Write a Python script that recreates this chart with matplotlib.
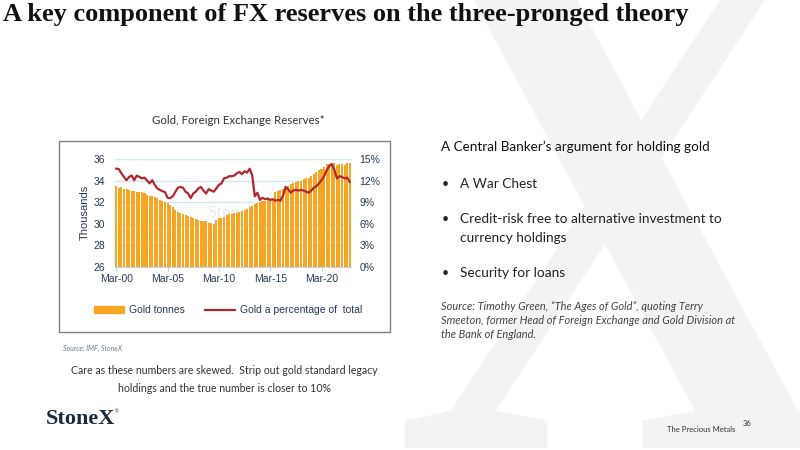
import matplotlib
matplotlib.use("Agg")
from matplotlib import pyplot as plt
from matplotlib import patches
from matplotlib.textpath import TextPath
from matplotlib.font_manager import FontProperties
from matplotlib.transforms import Affine2D
from matplotlib.lines import Line2D
import numpy as np

# quarterly, Mar-00 .. Dec-22
gold_tonnes = [
    33.5, 33.3, 33.4, 33.2,   # 2000
    33.2, 33.1, 33.0, 33.0,   # 2001
    32.9, 32.95, 32.9, 32.8,  # 2002
    32.7, 32.6, 32.6, 32.5,   # 2003
    32.4, 32.2, 32.1, 32.0,   # 2004
    31.9, 31.7, 31.5, 31.3,   # 2005
    31.1, 31.0, 30.9, 30.8,   # 2006
    30.7, 30.6, 30.5, 30.4,   # 2007
    30.3, 30.2, 30.2, 30.2,   # 2008
    30.1, 30.1, 30.0, 30.3,   # 2009
    30.5, 30.5, 30.6, 30.8,   # 2010
    30.9, 30.9, 31.0, 31.0,   # 2011
    31.1, 31.2, 31.3, 31.4,   # 2012
    31.5, 31.6, 31.8, 31.9,   # 2013
    32.0, 32.1, 32.1, 32.2,   # 2014
    32.2, 32.2, 32.9, 33.0,   # 2015
    33.1, 33.2, 33.4, 33.5,   # 2016
    33.7, 33.8, 33.9, 34.0,   # 2017
    34.0, 34.1, 34.2, 34.2,   # 2018
    34.4, 34.6, 34.8, 35.0,   # 2019
    35.1, 35.3, 35.5, 35.5,   # 2020
    35.5, 35.6, 35.4, 35.5,   # 2021
    35.5, 35.4, 35.6, 35.6,   # 2022
]
gold_pct = [
    13.65, 13.6, 13.0, 12.5,
    12.05, 12.5, 12.7, 12.05,
    12.7, 12.5, 12.3, 12.4,
    12.0, 11.6, 12.05, 11.4,
    10.9, 10.7, 10.5, 10.4,
    9.6, 9.55, 9.8, 10.4,
    11.0, 11.1, 11.0, 10.45,
    10.2, 9.55, 10.2, 10.45,
    10.9, 11.1, 10.6, 10.2,
    10.8, 10.6, 10.45, 10.9,
    11.4, 11.6, 12.3, 12.4,
    12.6, 12.6, 12.7, 13.0,
    13.2, 12.9, 13.3, 13.1,
    13.65, 12.7, 9.8, 10.3,
    9.3, 9.6, 9.4, 9.5,
    9.3, 9.4, 9.2, 9.3,
    9.2, 9.9, 11.1, 10.8,
    10.3, 10.6, 10.7, 10.6,
    10.7, 10.6, 10.45, 10.3,
    10.6, 11.0, 11.2, 11.6,
    12.05, 12.6, 13.4, 14.0,
    14.3, 13.5, 12.3, 12.6,
    12.5, 12.3, 12.4, 11.8,
]
x_labels = ["Mar-00", "Mar-05", "Mar-10", "Mar-15", "Mar-20"]
left_ticks = [26, 28, 30, 32, 34, 36]
right_ticks = [0, 3, 6, 9, 12, 15]

BAR_COLOR = "#F6A623"
LINE_COLOR = "#B0282D"
GRID_COLOR = "#D4E5F4"
TICK_COLOR = "#243B5A"
SANS = "Liberation Sans"
BODY = "Lato"

fig = plt.figure(figsize=(8, 4.5), dpi=100)

# background "slide" axes in pixel coordinates
bg = fig.add_axes([0, 0, 1, 1], zorder=0)
bg.set_xlim(0, 800)
bg.set_ylim(450, 0)
bg.axis("off")

# big watermark X
fp = FontProperties(family="Liberation Serif", weight="bold")
tp = TextPath((0, 0), "X", size=1, prop=fp)
ext = tp.get_extents()
W, H = 440, 500
tr = Affine2D().translate(-ext.x0, -ext.y0).scale(W / ext.width, -H / ext.height).translate(405, 448)
bg.add_patch(patches.PathPatch(tr.transform_path(tp), facecolor="#F2F3F5", edgecolor="none", zorder=0))

bg.text(3, 15, "A key component of FX reserves on the three-pronged theory", fontsize=19,
        fontweight="bold", family="Liberation Serif", va="center", ha="left", color="#111111")

bg.text(238, 121, "Gold, Foreign Exchange Reserves*", fontsize=8.3, family=BODY, ha="center",
        va="center", color="#333333")

# chart frame
bg.add_patch(patches.Rectangle((59, 141), 331, 191, fill=False, edgecolor="#808080", lw=1))

bg.text(63, 348, "Source: IMF, StoneX", fontsize=5, style="italic", family=BODY, color="#6F7A8A",
        va="center")
bg.text(224, 371, "Care as these numbers are skewed.  Strip out gold standard legacy", fontsize=7.6,
        family=BODY, ha="center", va="center", color="#333333")
bg.text(224, 388, "holdings and the true number is closer to 10%", fontsize=7.6,
        family=BODY, ha="center", va="center", color="#333333")

bg.text(46, 419, "StoneX", fontsize=16, family="Liberation Serif", fontweight="semibold",
        va="center", color="#1B2A3A")
bg.text(115, 412, "\u00ae", fontsize=3.5, family=SANS, va="center", color="#1B2A3A")

bg.text(441, 147, "A Central Banker\u2019s argument for holding gold", fontsize=9.7, family=BODY,
        va="center", color="#111111")
bullets = [(184, "A War Chest"), (219, "Credit-risk free to alternative investment to"),
           (273, "Security for loans")]
for yy, txt in bullets:
    bg.text(442, yy, "\u2022", fontsize=9, family=BODY, va="center", color="#222222")
    bg.text(460, yy, txt, fontsize=9.8, family=BODY, va="center", color="#222222")
bg.text(460, 238, "currency holdings", fontsize=9.8, family=BODY, va="center", color="#222222")
src = ["Source: Timothy Green, \u201cThe Ages of Gold\u201d, quoting Terry",
       "Smeeton, former Head of Foreign Exchange and Gold Division at",
       "the Bank of England."]
for k, line in enumerate(src):
    bg.text(441, 307 + k * 14, line, fontsize=7.9, family=BODY, style="italic", va="center",
            color="#444444")

bg.text(735, 430, "The Precious Metals", fontsize=5.5, family=BODY, ha="right", va="center",
        color="#333333")
bg.text(743, 423, "36", fontsize=5.5, family=BODY, ha="left", va="center", color="#333333")

# the chart
idx = np.arange(len(gold_tonnes))
ax = fig.add_axes([115 / 800, 1 - 266.7 / 450, 236 / 800, 107.7 / 450], zorder=2)
ax.bar(idx, gold_tonnes, width=0.8, color=BAR_COLOR, zorder=2)
ax.set_ylim(26, 36)
ax.set_xlim(-0.5, len(gold_tonnes) - 0.5)
ax.set_yticks(left_ticks)
ax.set_xticks(np.arange(0, len(gold_tonnes), 20))
ax.set_xticklabels(x_labels)
ax.set_axisbelow(True)
ax.yaxis.grid(True, color=GRID_COLOR, lw=1)
for s in ["top", "left", "right"]:
    ax.spines[s].set_visible(False)
ax.spines["bottom"].set_color("#BCD6EE")
ax.tick_params(axis="y", length=0, pad=7, labelsize=7.5, labelcolor=TICK_COLOR)
ax.tick_params(axis="x", length=3, color="#BCD6EE", pad=2, labelsize=7.5, labelcolor=TICK_COLOR)
for lab in ax.get_xticklabels() + ax.get_yticklabels():
    lab.set_family(SANS)
ax.set_ylabel("Thousands", fontsize=8, family=SANS, color=TICK_COLOR, labelpad=3)
ax.text(0.5, 0.5, "StoneX", transform=ax.transAxes, fontsize=12, family="Liberation Serif",
        fontweight="bold", color="#E2E2E2", alpha=0.6, ha="center", va="center", zorder=1)

ax2 = ax.twinx()
ax2.plot(idx, gold_pct, color=LINE_COLOR, lw=1.6)
ax2.set_ylim(0, 15)
ax2.set_yticks(right_ticks)
ax2.set_yticklabels([f"{t}%" for t in right_ticks])
for s in ax2.spines.values():
    s.set_visible(False)
ax2.tick_params(axis="y", length=0, pad=6, labelsize=7.5, labelcolor=TICK_COLOR)
for lab in ax2.get_yticklabels():
    lab.set_family(SANS)

handles = [patches.Patch(color=BAR_COLOR), Line2D([], [], color=LINE_COLOR, lw=1.6)]
fig.legend(handles, ["Gold tonnes", "Gold a percentage of  total"], loc="center",
           bbox_to_anchor=(228 / 800, 1 - 310 / 450), ncol=2, frameon=False,
           prop={"family": SANS, "size": 7.5}, handlelength=2.9, handleheight=0.6,
           columnspacing=2.0, handletextpad=0.4, labelcolor=TICK_COLOR)

fig.savefig("out.png", dpi=100)
